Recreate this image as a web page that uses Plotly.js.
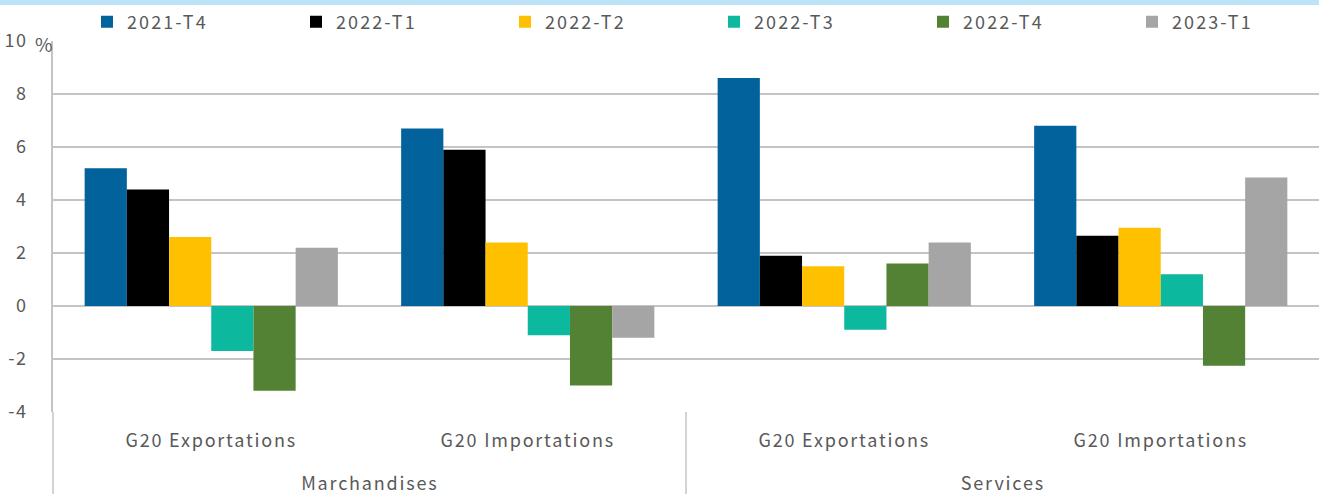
<!DOCTYPE html>
<html>
<head>
<meta charset="utf-8">
<script src="https://cdn.plot.ly/plotly-3.0.1.min.js"></script>
<style>
html,body{margin:0;padding:0;background:#fff;}
#chart{width:1319px;height:494px;}
#chart .xtick text, #chart .annotation-text {letter-spacing:1.8px;}
#chart .legendtext {letter-spacing:2.1px;}
#chart .ytick text {letter-spacing:1.6px;}
</style>
</head>
<body>
<div id="chart"></div>
<script>
const groups = ["Marchandises", "Marchandises", "Services", "Services"];
const flows = ["G20 Exportations", "G20 Importations", "G20 Exportations", "G20 Importations"];
const groupLabels = ["Marchandises", "Services"];
const seriesNames = ["2021-T4", "2022-T1", "2022-T2", "2022-T3", "2022-T4", "2023-T1"];
const v2021T4 = [5.2, 6.7, 8.6, 6.8];
const v2022T1 = [4.4, 5.9, 1.9, 2.65];
const v2022T2 = [2.6, 2.4, 1.5, 2.95];
const v2022T3 = [-1.7, -1.1, -0.9, 1.2];
const v2022T4 = [-3.2, -3.0, 1.6, -2.25];
const v2023T1 = [2.2, -1.2, 2.4, 4.85];
const yTicks = [-4, -2, 0, 2, 4, 6, 8, 10];

const values = [v2021T4, v2022T1, v2022T2, v2022T3, v2022T4, v2023T1];
const colors = ["#02629B", "#000000", "#FFC000", "#0DB99E", "#548235", "#A5A5A5"];
const FONT = '"Noto Sans CJK JP", "Noto Sans", sans-serif';
const TXT = "#595959";
const GRID = "#c4c4c4";

const W = 1319, H = 494, ML = 53, MR = 0, MT = 41, MB = 82;
const PW = W - ML - MR, PH = H - MT - MB;

// unique category keys built from the two label levels
const cats = groups.map((g, i) => g + " | " + flows[i]);

const traces = seriesNames.map((n, i) => ({
  type: "bar",
  name: n,
  x: cats,
  y: values[i],
  marker: {color: colors[i], line: {width: 0}},
  hovertemplate: "%{x}<br>%{y}<extra>" + n + "</extra>"
}));

// group label positions: centre of each group's categories (category index units)
const groupAnn = groupLabels.map(g => {
  const idx = groups.map((x, i) => x === g ? i : null).filter(i => i !== null);
  const mid = (idx[0] + idx[idx.length - 1]) / 2;
  return {
    xref: "x", yref: "paper", x: mid, y: -(482 - (MT + PH)) / PH,
    xanchor: "center", yanchor: "middle", text: g, showarrow: false,
    font: {family: FONT, size: 18, color: TXT}
  };
});

const layout = {
  width: W, height: H,
  margin: {l: ML, r: MR, t: MT, b: MB, pad: 0, autoexpand: false},
  paper_bgcolor: "#fff", plot_bgcolor: "#fff",
  font: {family: FONT, color: TXT, size: 18},
  barmode: "group",
  bargap: 0.2,
  bargroupgap: 0,
  showlegend: true,
  legend: {
    orientation: "h",
    xref: "container", x: 87 / W, xanchor: "left",
    y: 1 + (MT - 22) / PH, yanchor: "middle",
    entrywidth: 164, entrywidthmode: "pixels",
    font: {family: FONT, size: 18, color: TXT},
    bgcolor: "rgba(0,0,0,0)",
    tracegroupgap: 0
  },
  xaxis: {
    type: "category",
    tickvals: cats,
    ticktext: flows,
    showgrid: false,
    showline: false,
    zeroline: false,
    ticks: "",
    ticklabelstandoff: 16,
    tickfont: {family: FONT, size: 18, color: TXT},
    fixedrange: true
  },
  yaxis: {
    range: [-4, 10],
    tickvals: yTicks,
    ticktext: yTicks.map(String),
    showgrid: true, gridcolor: GRID, gridwidth: 1.5,
    zeroline: true, zerolinecolor: GRID, zerolinewidth: 1.5,
    showline: true, linecolor: GRID, linewidth: 1.5,
    ticks: "",
    ticklabelstandoff: 20,
    tickfont: {family: FONT, size: 18, color: TXT},
    fixedrange: true
  },
  annotations: [{
    xref: "paper", yref: "y", x: 0, y: 10,
    xanchor: "center", yanchor: "middle", xshift: -8, yshift: -2,
    text: "%", showarrow: false,
    font: {family: FONT, size: 19, color: TXT}
  }].concat(groupAnn),
  shapes: [
    {type: "rect", xref: "paper", yref: "paper", x0: -ML / PW, x1: 1, y0: 1 + (MT - 5) / PH, y1: 1 + MT / PH,
     fillcolor: "#BDE3F8", line: {width: 0}, layer: "above"},
    {type: "line", xref: "paper", yref: "paper", x0: 0, x1: 0, y0: -MB / PH, y1: 0,
     line: {color: GRID, width: 1.5}},
    {type: "line", xref: "paper", yref: "paper", x0: 0.5, x1: 0.5, y0: -MB / PH, y1: 0,
     line: {color: GRID, width: 1.5}}
  ]
};

Plotly.newPlot("chart", traces, layout, {displayModeBar: false, responsive: false});
</script>
</body>
</html>
